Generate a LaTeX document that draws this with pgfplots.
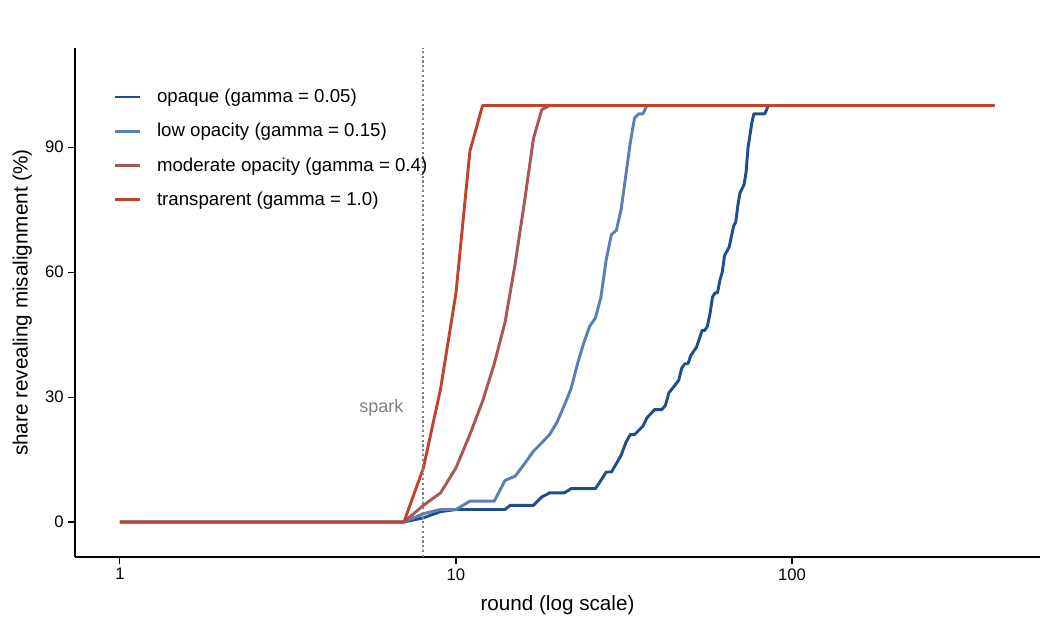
\documentclass[border=0pt]{standalone}
\usepackage{pgfplots}
\pgfplotsset{compat=1.18}
\usepackage{fontspec}
\setmainfont{Liberation Sans}
\definecolor{cop}{HTML}{1F4E8C}
\definecolor{clow}{HTML}{5B7FB5}
\definecolor{cmod}{HTML}{A85656}
\definecolor{ctr}{HTML}{C0432C}
\begin{document}
\begin{tikzpicture}[x=0.75pt,y=0.75pt]
\begin{axis}[name=ax,scale only axis,width=723.75pt,height=381.75pt,
 xmode=log, xmin=0.735, xmax=547, ymin=-8.4, ymax=113.8,
 axis lines=left, axis line style={-,line width=1.2pt},
 tick style={black,line width=0.8pt}, tick align=outside, major tick length=5pt,
 xtick={1,10,100}, xticklabels={1,10,100}, minor xtick={}, ytick={0,30,60,90},
 log ticks with fixed point, minor tick length=0pt,
 tick label style={font=\fontsize{12.5}{14}\selectfont},
 /pgf/number format/assume math mode=true,
 xlabel={round (log scale)}, ylabel={share revealing misalignment (\%)},
 xlabel style={yshift=-5pt}, ylabel style={yshift=3pt},
 label style={font=\fontsize{15.5}{17}\selectfont},
 legend style={draw=none,fill=none,at={(0.035,0.93)},anchor=north west,font=\fontsize{14}{16}\selectfont,row sep=10pt,
   nodes={inner xsep=12pt}},
 legend cell align=left, legend image post style={xscale=1.1},
 every axis plot/.append style={line width=2.2pt, line join=round}]
\addplot[cop] coordinates {(1,0)(7,0)(8,1)(9,2.5)(10,3)(14,3)(14.5,4)(17,4)(18,6)(19,7)(21,7)(22,8)(26,8)(27,10)(28,12)(29,12)(30,14)(31,16)(32,19)(33,21)(34,21)(35,22)(36,23)(37,25)(38,26)(39,27)(41,27)(42,28)(43,31)(44,32)(46,34)(47,37)(48,38)(49,38)(50,40)(52,42)(54,46)(55,46)(56,47)(57,50)(58,54)(59,55)(60,55)(61,58)(62,60)(63,64)(65,66)(67,71)(68,72)(69,76)(70,79)(72,81)(73,84)(74,90)(76,96)(77,98)(83,98)(85,100)(400,100)};
\addlegendentry{opaque (gamma = 0.05)}
\addplot[clow] coordinates {(1,0)(7,0)(8,2)(9,3)(10,3)(11,5)(13,5)(14,10)(15,11)(16,14)(17,17)(18,19)(19,21)(20,24)(21,28)(22,32)(23,38)(24,43)(25,47)(26,49)(27,54)(28,63)(29,69)(30,70)(31,75)(32,83)(33,91)(34,97)(35,98)(36,98)(37,100)(400,100)};
\addlegendentry{low opacity (gamma = 0.15)}
\addplot[cmod] coordinates {(1,0)(7,0)(8,4)(9,7)(10,13)(11,21)(12,29)(13,38)(14,48)(15,62)(16,77)(17,92)(18,99)(19,100)(400,100)};
\addlegendentry{moderate opacity (gamma = 0.4)}
\addplot[ctr] coordinates {(1,0)(7,0)(8,13)(9,32)(10,55)(11,89)(12,100)(400,100)};
\addlegendentry{transparent (gamma = 1.0)}
\draw[gray,dotted,line width=1.6pt] (axis cs:8,-8.4) -- (axis cs:8,113.8);
\node[anchor=east,text=gray,font=\fontsize{13.5}{15}\selectfont] at (axis cs:7.2,27.5) {spark};
\end{axis}
\path ([xshift=-75pt*0.75,yshift=-73pt*0.75]ax.south west) rectangle ([xshift=10pt*0.75,yshift=48pt*0.75]ax.north east);
\end{tikzpicture}
\end{document}
